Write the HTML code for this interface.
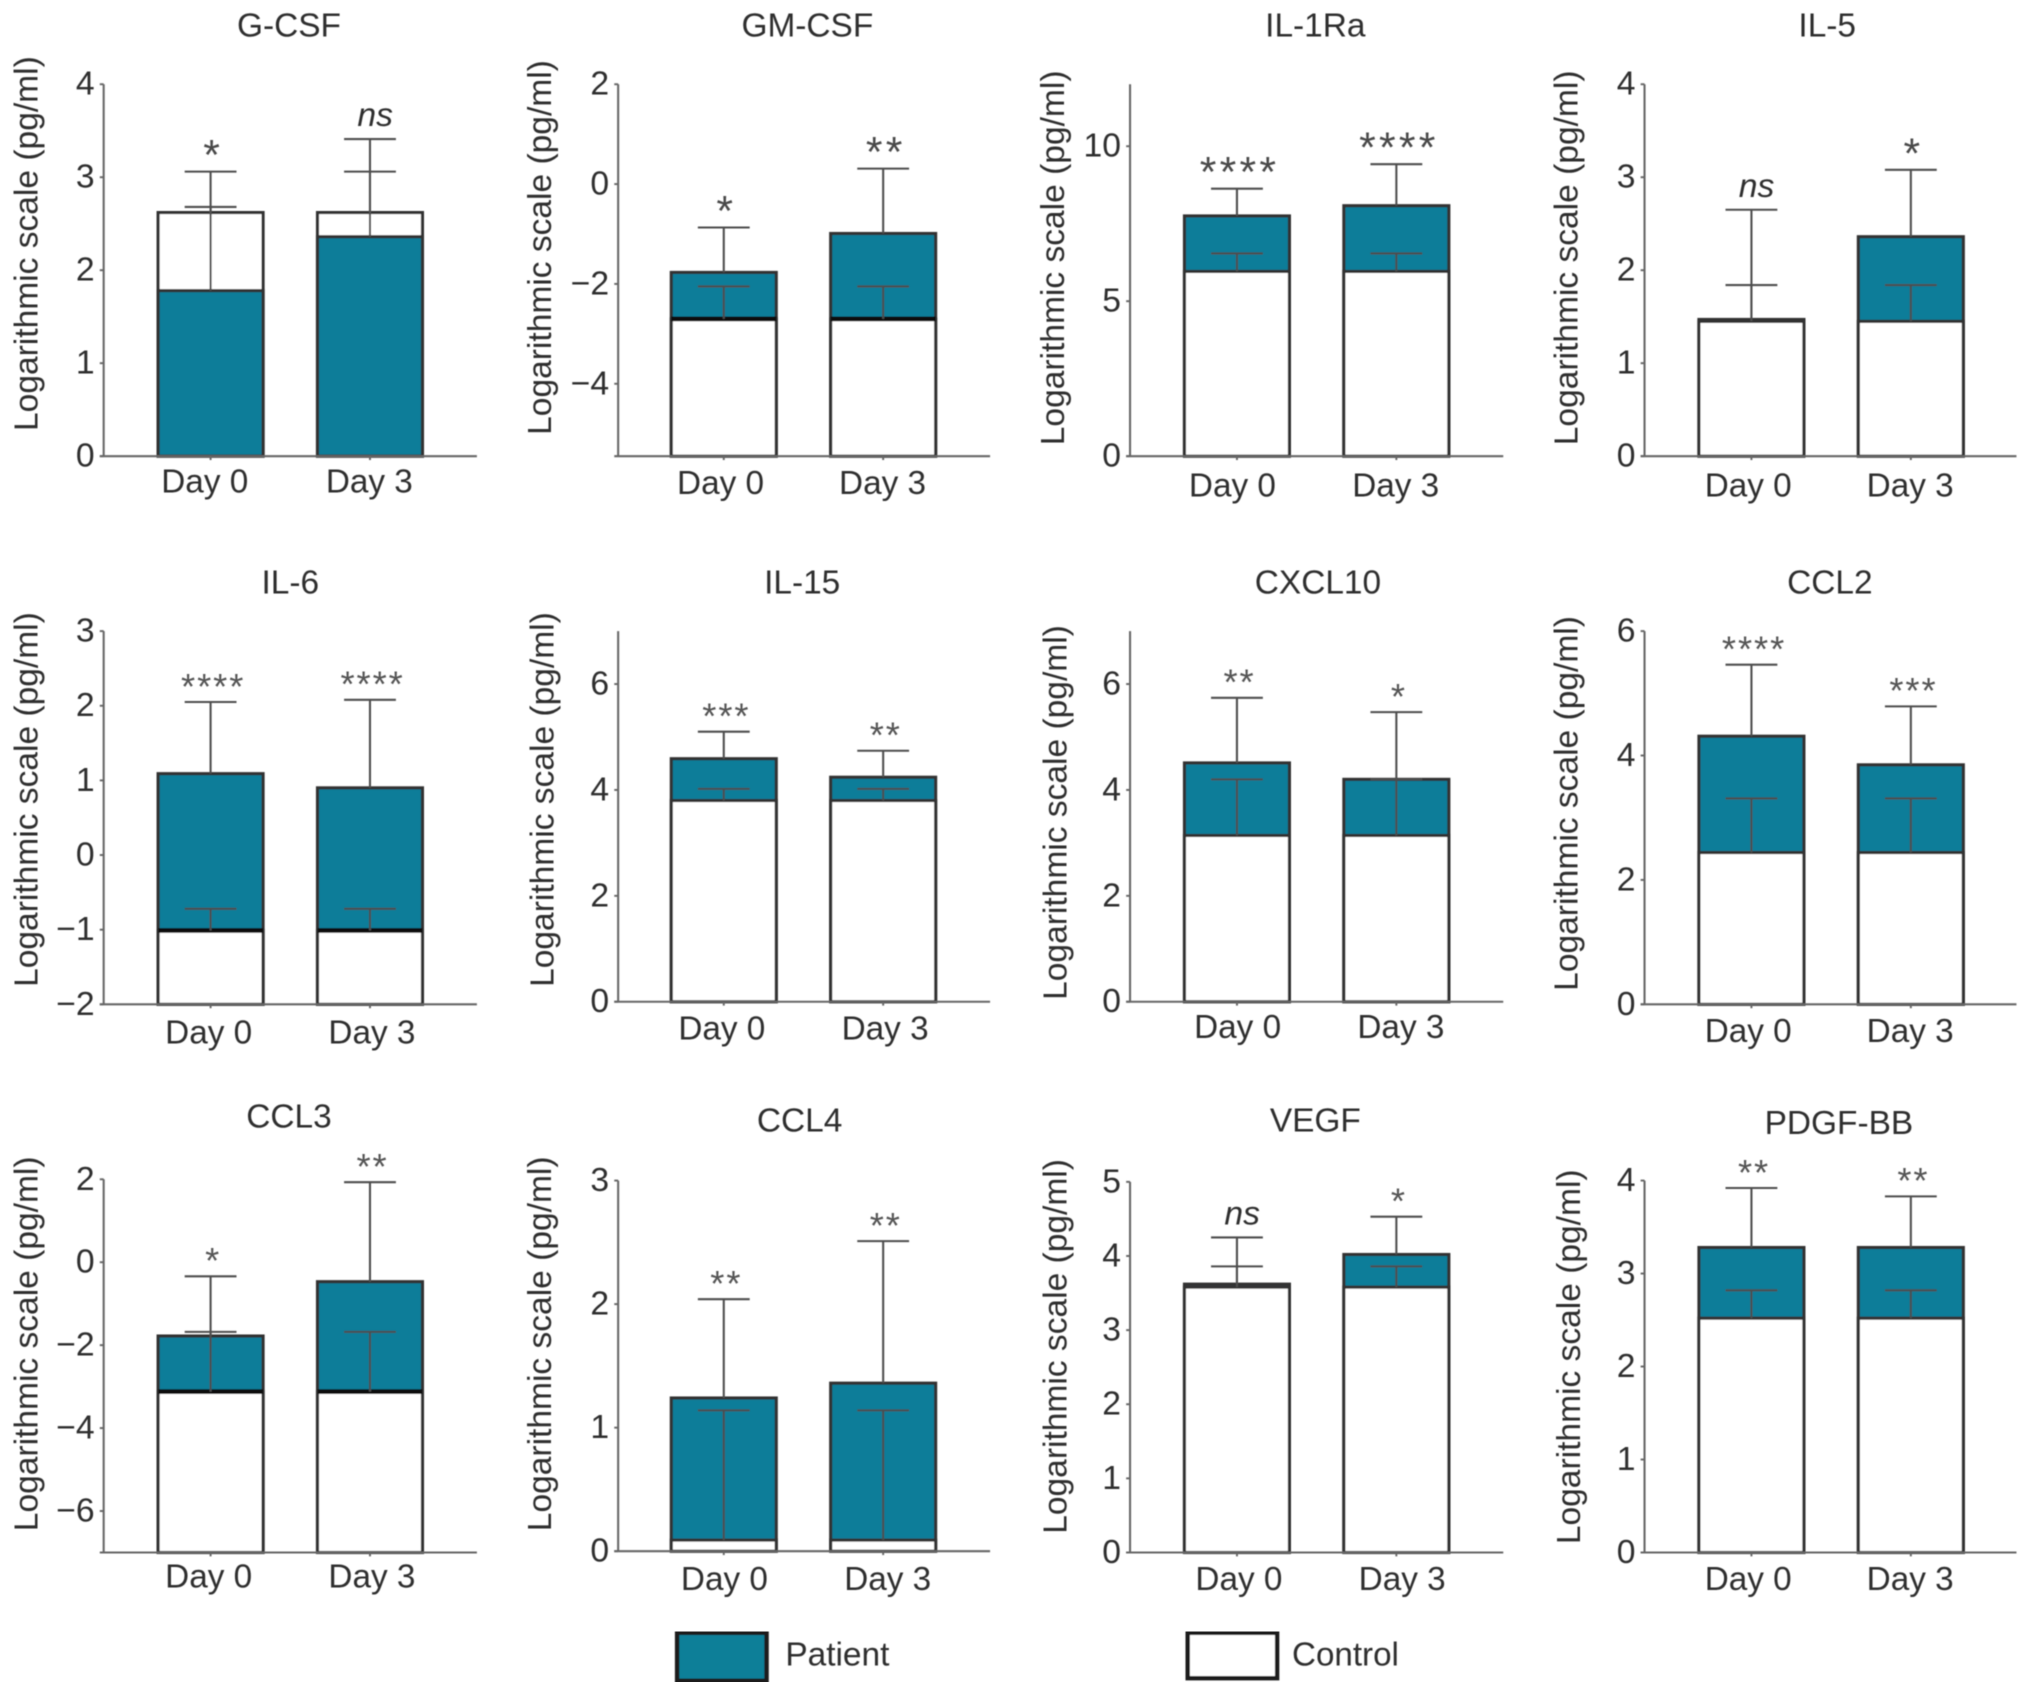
<!DOCTYPE html>
<html lang="en">
<head>
<meta charset="utf-8">
<title>Cytokine levels in patients and controls</title>
<style>
html,body{margin:0;padding:0;background:#fff;width:2032px;height:1701px;overflow:hidden}
svg{display:block}
text{font-family:"Liberation Sans",sans-serif;fill:#2e2e2e}
</style>
</head>
<body>
<svg id="chart" xmlns="http://www.w3.org/2000/svg" width="2032" height="1701" viewBox="0 0 1568 1312.6" preserveAspectRatio="none">
  <defs>
    <filter id="soft" x="-2%" y="-2%" width="104%" height="104%"><feGaussianBlur stdDeviation="0.45"/></filter>
  </defs>
  <rect x="0" y="0" width="1568" height="1312.6" fill="#fff"/>
  <g id="root" filter="url(#soft)"></g>
</svg>
<script>
// ---- data ----
const panelTitles = ['G-CSF','GM-CSF','IL-1Ra','IL-5','IL-6','IL-15','CXCL10','CCL2','CCL3','CCL4','VEGF','PDGF-BB'];
const dayLabels = ['Day 0','Day 3'];
const axisTitle = 'Logarithmic scale (pg/ml)';
const yDomains = [[0,4],[-5.45,2],[0,12],[0,4],[-2,3],[0,7],[0,7],[0,6],[-7,2],[0,3],[0,5],[0,4]];
const yTickLabels = [
  [0,1,2,3,4],[-4,-2,0,2],[0,5,10],[0,1,2,3,4],
  [-2,-1,0,1,2,3],[0,2,4,6],[0,2,4,6],[0,2,4,6],
  [-6,-4,-2,0,2],[0,1,2,3],[0,1,2,3,4,5],[0,1,2,3,4]
];
const patientMeans = [
  [1.78,2.36],[-1.77,-0.99],[7.75,8.08],[1.47,2.36],
  [1.09,0.90],[4.59,4.24],[4.51,4.20],[4.31,3.85],
  [-1.78,-0.47],[1.24,1.36],[3.62,4.02],[3.28,3.28]
];
const patientErrorTops = [
  [2.68,3.41],[-0.87,0.31],[8.63,9.42],[2.65,3.08],
  [2.05,2.08],[5.10,4.74],[5.74,5.47],[5.46,4.79],
  [-0.34,1.93],[2.04,2.51],[4.25,4.53],[3.92,3.83]
];
const controlMeans = [2.62,-2.70,5.96,1.45,-1.01,3.80,3.14,2.44,-3.12,0.09,3.58,2.52];
const controlErrorTops = [3.06,-2.05,6.54,1.84,-0.72,4.02,4.20,3.31,-1.68,1.14,3.86,2.82];
const significance = [
  ['*','ns'],['*','**'],['****','****'],['ns','*'],
  ['****','****'],['***','**'],['**','*'],['****','***'],
  ['*','**'],['**','**'],['ns','*'],['**','**']
];

// ---- layout (frame of each panel, not data) ----
const columnFrames = [
  {axisX:80,right:368,bar0:122,bar1:245},
  {axisX:477,right:764,bar0:518,bar1:641},
  {axisX:872,right:1160,bar0:914,bar1:1037},
  {axisX:1269,right:1556,bar0:1311,bar1:1434}
];
const panelFrames = [
  {top:65,bottom:352,tx:223,ty:20,lx:21,ly:188,d0:158,d1:285,dy:372},
  {top:65,bottom:352,tx:623,ty:20,lx:417,ly:191,d0:556,d1:681,dy:373},
  {top:65,bottom:352,tx:1015,ty:20,lx:813,ly:199,d0:951,d1:1077,dy:375},
  {top:65,bottom:352,tx:1410,ty:20,lx:1209,ly:199,d0:1349,d1:1474,dy:375},
  {top:487,bottom:775,tx:224,ty:450,lx:21,ly:617,d0:161,d1:287,dy:797},
  {top:487,bottom:773,tx:619,ty:450,lx:419,ly:617,d0:557,d1:683,dy:794},
  {top:487,bottom:773,tx:1017,ty:450,lx:815,ly:627,d0:955,d1:1081,dy:793},
  {top:487,bottom:775,tx:1412,ty:450,lx:1209,ly:620,d0:1349,d1:1474,dy:796},
  {top:910,bottom:1198,tx:223,ty:862,lx:21,ly:1037,d0:161,d1:287,dy:1217},
  {top:911,bottom:1197,tx:617,ty:865,lx:417,ly:1037,d0:559,d1:685,dy:1219},
  {top:912,bottom:1198,tx:1015,ty:865,lx:815,ly:1039,d0:956,d1:1082,dy:1219},
  {top:911,bottom:1198,tx:1419,ty:867,lx:1211,ly:1047,d0:1349,d1:1474,dy:1219}
];
const BAR_W = 81, CAP_W = 40;
const TEAL = '#087d99', EDGE = '#333', THIN = '#4e4e4e', AXIS = '#666';
const SVGNS = 'http://www.w3.org/2000/svg';
const root = document.getElementById('root');

function make(parent, tag, attrs, text){
  const node = document.createElementNS(SVGNS, tag);
  for (const k in attrs) node.setAttribute(k, attrs[k]);
  if (text !== undefined) node.textContent = text;
  parent.appendChild(node);
  return node;
}
function slug(s){ return s.toLowerCase().replace(/[^a-z0-9]+/g,'-'); }

panelTitles.forEach(function(title, p){
  const col = columnFrames[p % 4];
  const f = panelFrames[p];
  const dom = yDomains[p];
  const y = function(v){ return f.bottom - (v - dom[0]) / (dom[1] - dom[0]) * (f.bottom - f.top); };
  const barX = [col.bar0, col.bar1];
  const key = slug(title);
  const firstRow = p < 4;

  const g = make(root, 'g', {});
  
  

  let el = make(g, 'text', {x:f.tx, y:f.ty, 'text-anchor':'middle', 'dominant-baseline':'central', 'font-size':25.8}, title);
  
  

  el = make(g, 'text', {x:0, y:0, transform:'translate(' + f.lx + ',' + f.ly + ') rotate(-90)', 'text-anchor':'middle', 'dominant-baseline':'central', 'font-size':25.9}, axisTitle);
  
  

  // bars and error bars
  [0,1].forEach(function(d){
    const pv = patientMeans[p][d], cv = controlMeans[p];
    const cx = barX[d] + BAR_W / 2;
    const drawBar = function(value, fill, name){
      const r = make(g, 'rect', {x:barX[d], y:y(value), width:BAR_W, height:f.bottom - y(value), fill:fill, stroke:EDGE, 'stroke-width':2.4});
      
      
    };
    if (pv >= cv) { drawBar(pv, TEAL, 'patient'); drawBar(cv, '#fff', 'control'); }
    else { drawBar(cv, '#fff', 'control'); drawBar(pv, TEAL, 'patient'); }

    if (dom[0] < 0) {
      const heavy = make(g, 'line', {x1:barX[d], x2:barX[d] + BAR_W, y1:y(cv), y2:y(cv), stroke:'#111', 'stroke-width':3.6});
      
      
    }

    const drawError = function(from, to, name){
      const s = make(g, 'line', {x1:cx, x2:cx, y1:y(from), y2:y(to), stroke:THIN, 'stroke-width':1.6});
      
      
      const c = make(g, 'line', {x1:cx - CAP_W / 2, x2:cx + CAP_W / 2, y1:y(to), y2:y(to), stroke:THIN, 'stroke-width':1.6});
      
      
    };
    drawError(cv, controlErrorTops[p], 'control');
    drawError(pv, patientErrorTops[p][d], 'patient');

    // significance label sits above the highest cap
    const sig = significance[p][d];
    const capTop = y(Math.max(patientErrorTops[p][d], controlErrorTops[p]));
    let mark;
    if (sig === 'ns') {
      mark = make(g, 'text', {x:cx + 4, y:capTop - 10, 'text-anchor':'middle', 'font-size':26, 'font-style':'italic'}, sig);
    } else if (firstRow) {
      mark = make(g, 'text', {x:cx + 2, y:capTop - 1.5, 'text-anchor':'middle', 'font-size':33, 'letter-spacing':'2.5', style:'fill:#4a4a4a'}, sig);
    } else {
      mark = make(g, 'text', {x:cx + 2, y:capTop - 2.5, 'text-anchor':'middle', 'font-size':28, 'letter-spacing':'1.5', style:'fill:#555'}, sig);
    }
    
    

    const tick = make(g, 'line', {x1:cx, x2:cx, y1:f.bottom, y2:f.bottom + 3, stroke:AXIS, 'stroke-width':1.5});
    
    

    const dl = make(g, 'text', {x:d ? f.d1 : f.d0, y:f.dy, 'text-anchor':'middle', 'dominant-baseline':'central', 'font-size':25.7}, dayLabels[d]);
    
    
  });

  // axes
  el = make(g, 'line', {x1:col.axisX, x2:col.axisX, y1:f.top, y2:f.bottom, stroke:AXIS, 'stroke-width':1.6});
  
  
  el = make(g, 'line', {x1:col.axisX - 3, x2:col.right, y1:f.bottom, y2:f.bottom, stroke:AXIS, 'stroke-width':1.6});
  
  

  yTickLabels[p].forEach(function(v){
    const t = make(g, 'line', {x1:col.axisX - 3, x2:col.axisX, y1:y(v), y2:y(v), stroke:AXIS, 'stroke-width':1.5});
    
    
    const lab = make(g, 'text', {x:col.axisX - 7, y:y(v), 'text-anchor':'end', 'dominant-baseline':'central', 'font-size':26}, String(v).replace('-', '\u2212'));
    
    
  });
});
</script>
<svg style="position:absolute;left:0;top:0" width="2032" height="1701" viewBox="0 0 1568 1312.6" preserveAspectRatio="none">
  <g filter="url(#soft)">
    <rect x="522.5" y="1260" width="69" height="37" fill="#0f7f98" stroke="#1c1c1c" stroke-width="3.4"/>
    <text x="606" y="1277" dominant-baseline="central" font-size="25.8">Patient</text>
    <rect x="916.5" y="1260" width="69" height="35" fill="#fff" stroke="#1c1c1c" stroke-width="3.4"/>
    <text x="997" y="1277" dominant-baseline="central" font-size="25.6">Control</text>
  </g>
</svg>
</body>
</html>
